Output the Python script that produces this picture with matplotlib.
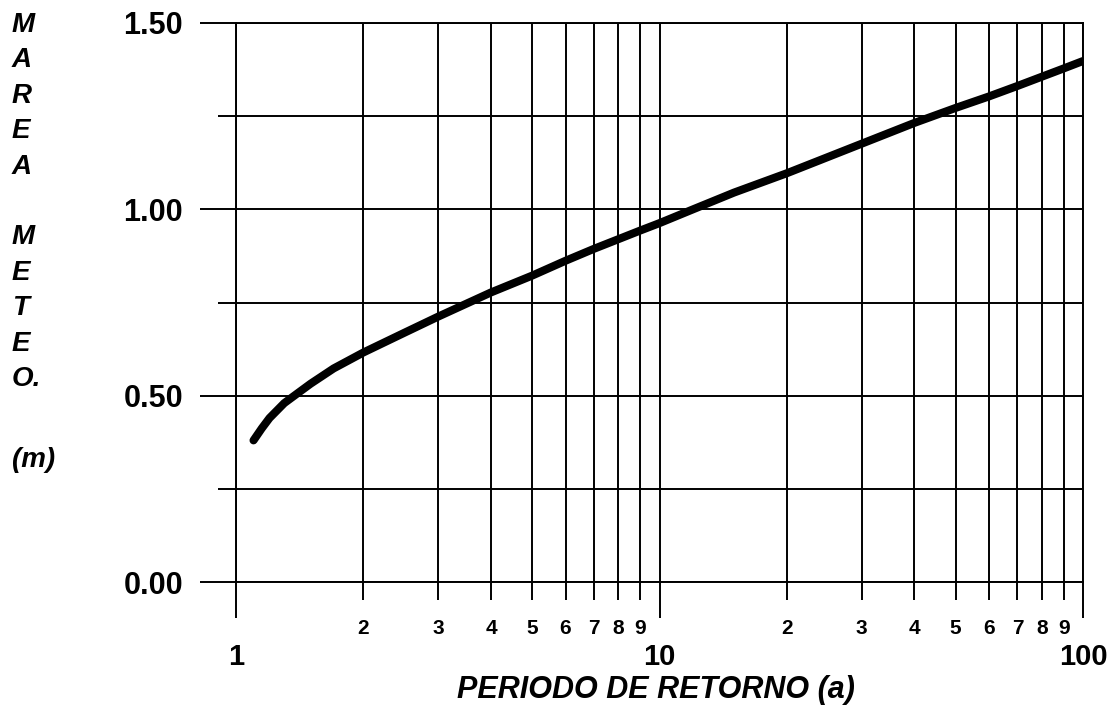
import numpy as np
import matplotlib.pyplot as plt
from matplotlib.ticker import FixedLocator, FixedFormatter

plt.rcParams['font.family'] = ['Liberation Sans', 'DejaVu Sans']

# return period (years) and meteorological tide (m)
periodo = [1.1, 1.15, 1.2, 1.3, 1.4, 1.5, 1.7, 2, 2.5, 3, 4, 5, 6, 7, 8, 9, 10,
           12, 15, 20, 30, 40, 50, 60, 70, 80, 90, 100]
marea = [0.38, 0.412, 0.44, 0.48, 0.507, 0.532, 0.573, 0.616, 0.669, 0.712, 0.777, 0.822, 0.862,
         0.894, 0.920, 0.943, 0.963, 1.00, 1.045, 1.097, 1.176, 1.232, 1.272, 1.303, 1.331,
         1.356, 1.378, 1.398]

major_x = [1, 10, 100]
major_x_labels = ["1", "10", "100"]
minor_x = [m * d for d in (1, 10) for m in range(2, 10)]
minor_x_labels = [str(m) for d in (1, 10) for m in range(2, 10)]
major_y = [0.0, 0.5, 1.0, 1.5]
major_y_labels = ["0.00", "0.50", "1.00", "1.50"]
minor_y = [0.25, 0.75, 1.25]

fig = plt.figure(figsize=(11.15, 7.15), dpi=100)
ax = fig.add_axes([236 / 1115, (715 - 582) / 715, (1083 - 236) / 1115, (582 - 23) / 715])

ax.set_xscale('log')
ax.set_xlim(1, 100)
ax.set_ylim(0, 1.5)

ax.plot(periodo, marea, color='black', lw=5.8, solid_capstyle='round',
        solid_joinstyle='round', zorder=5)

ax.xaxis.set_major_locator(FixedLocator(major_x))
ax.xaxis.set_major_formatter(FixedFormatter(major_x_labels))
ax.xaxis.set_minor_locator(FixedLocator(minor_x))
ax.xaxis.set_minor_formatter(FixedFormatter(minor_x_labels))
ax.yaxis.set_major_locator(FixedLocator(major_y))
ax.yaxis.set_major_formatter(FixedFormatter(major_y_labels))
ax.yaxis.set_minor_locator(FixedLocator(minor_y))
ax.yaxis.set_minor_formatter(FixedFormatter([""] * len(minor_y)))

lw = 1.4
ax.grid(True, which='both', color='black', lw=lw)
for s in ax.spines.values():
    s.set_linewidth(lw)

ax.tick_params(axis='x', which='major', direction='out', length=26, width=lw, pad=18,
               labelsize=21)
ax.tick_params(axis='x', which='minor', direction='out', length=13, width=lw, pad=14,
               labelsize=15)
ax.tick_params(axis='y', which='major', direction='out', length=26, width=lw, pad=12,
               labelsize=22)
ax.tick_params(axis='y', which='minor', direction='out', length=13, width=lw)
for lab in ax.get_xticklabels() + ax.get_yticklabels() + ax.get_xticklabels(minor=True):
    lab.set_fontweight('bold')

fig.text(656 / 1115, 1 - 690 / 715, "PERIODO DE RETORNO (a)", ha='center', va='center',
         fontsize=22, fontweight='bold', style='italic')

fig.text(12 / 1115, 1 - 12 / 715, "M\nA\nR\nE\nA\n\nM\nE\nT\nE\nO.", ha='left', va='top',
         fontsize=20, fontweight='bold', style='italic', linespacing=1.47)
fig.text(12 / 1115, 1 - 460 / 715, "(m)", ha='left', va='center',
         fontsize=20, fontweight='bold', style='italic')

fig.savefig("out.png", dpi=100, facecolor='white')
